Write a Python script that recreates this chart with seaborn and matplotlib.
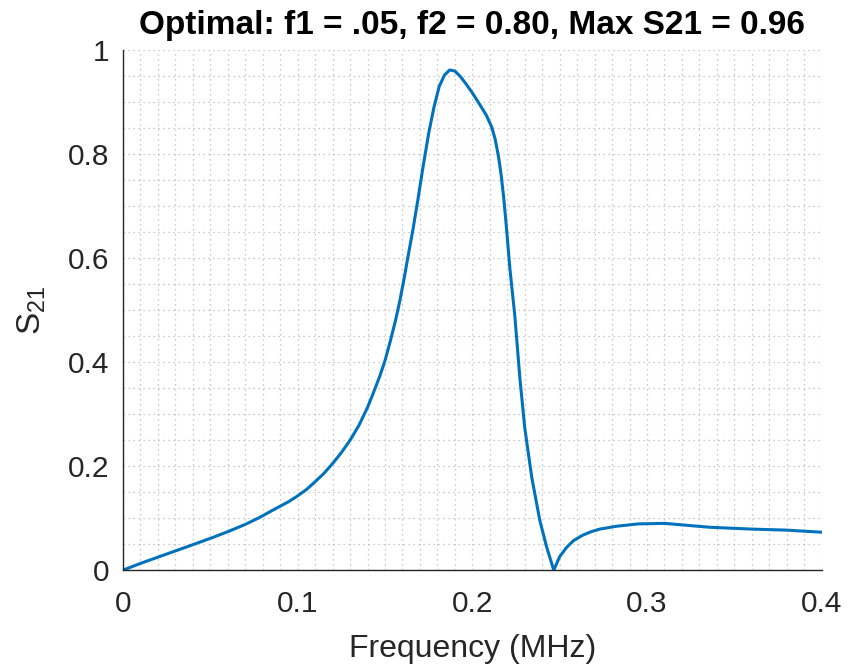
import numpy as np
import pandas as pd
import seaborn as sns
import matplotlib
matplotlib.use("Agg")
import matplotlib.pyplot as plt
from matplotlib.ticker import MultipleLocator

# Transmission response S21 versus frequency
freq_mhz = [0.0, 0.01, 0.02, 0.03, 0.04, 0.0515, 0.06, 0.07, 0.078, 0.085,
            0.09, 0.095, 0.0996, 0.105, 0.109, 0.115, 0.12, 0.125, 0.13, 0.135,
            0.14, 0.143, 0.147, 0.150, 0.153, 0.156, 0.1585, 0.161, 0.163, 0.166,
            0.169, 0.1717, 0.175, 0.178, 0.181, 0.184, 0.187, 0.190, 0.193, 0.196,
            0.200, 0.204, 0.208, 0.211, 0.213, 0.215, 0.2165, 0.218, 0.2195,
            0.2215, 0.2243, 0.2272, 0.230, 0.234, 0.2386, 0.2425, 0.2466,
            0.250, 0.254, 0.258, 0.263, 0.268, 0.273, 0.2826, 0.295, 0.31,
            0.336, 0.36, 0.38, 0.4]
s21 = [0.0, 0.013, 0.025, 0.037, 0.049, 0.063, 0.074, 0.088, 0.101, 0.114,
       0.123, 0.132, 0.142, 0.155, 0.167, 0.186, 0.205, 0.226, 0.25, 0.278,
       0.313, 0.338, 0.373, 0.403, 0.44, 0.48, 0.518, 0.562, 0.60, 0.655,
       0.716, 0.774, 0.84, 0.89, 0.93, 0.952, 0.962, 0.96, 0.95, 0.937,
       0.918, 0.897, 0.875, 0.853, 0.83, 0.795, 0.76, 0.715, 0.66,
       0.58, 0.49, 0.37, 0.274, 0.179, 0.096, 0.045, 0.0,
       0.026, 0.044, 0.057, 0.067, 0.074, 0.079, 0.0845, 0.089, 0.09,
       0.0825, 0.079, 0.077, 0.073]

x_ticks = [0, 0.1, 0.2, 0.3, 0.4]
x_tick_labels = ["0", "0.1", "0.2", "0.3", "0.4"]
y_ticks = [0, 0.2, 0.4, 0.6, 0.8, 1.0]
y_tick_labels = ["0", "0.2", "0.4", "0.6", "0.8", "1"]

df = pd.DataFrame({"Frequency": freq_mhz, "S21": s21})

sns.set_style("white")
plt.rcParams["font.family"] = ["Liberation Sans", "DejaVu Sans"]

ink = "#262626"
fig = plt.figure(figsize=(8.48, 6.70), dpi=100)
ax = fig.add_axes([0.145, 0.149, 0.824, 0.776])

sns.lineplot(data=df, x="Frequency", y="S21", ax=ax, color="#0072BD",
             linewidth=2.2, sort=False)

ax.set_xlim(0, 0.4)
ax.set_ylim(0, 1)
ax.set_xticks(x_ticks)
ax.set_xticklabels(x_tick_labels)
ax.set_yticks(y_ticks)
ax.set_yticklabels(y_tick_labels)
ax.xaxis.set_minor_locator(MultipleLocator(0.01))
ax.yaxis.set_minor_locator(MultipleLocator(0.05))

ax.grid(which="both", linestyle=(0, (1, 3)), color="#b8b8b8", linewidth=0.9)
ax.set_axisbelow(True)

for side in ("top", "right"):
    ax.spines[side].set_visible(False)
for side in ("left", "bottom"):
    ax.spines[side].set_color(ink)
    ax.spines[side].set_linewidth(1.0)

ax.tick_params(which="major", direction="in", length=6, width=1.0,
               colors=ink, labelsize=21.5)
ax.tick_params(axis="y", which="major", pad=10)
ax.tick_params(axis="x", which="major", pad=14)
ax.tick_params(which="minor", length=0)

ax.set_xlabel("Frequency (MHz)", fontsize=23, color=ink, labelpad=12)
ax.set_ylabel(r"S$_{\mathregular{21}}$", fontsize=24, color=ink, labelpad=14)
ax.set_title("Optimal: f1 = .05, f2 = 0.80, Max S21 = 0.96",
             fontsize=24, fontweight="bold", color="black", pad=12)

fig.savefig("out.png", dpi=100)
